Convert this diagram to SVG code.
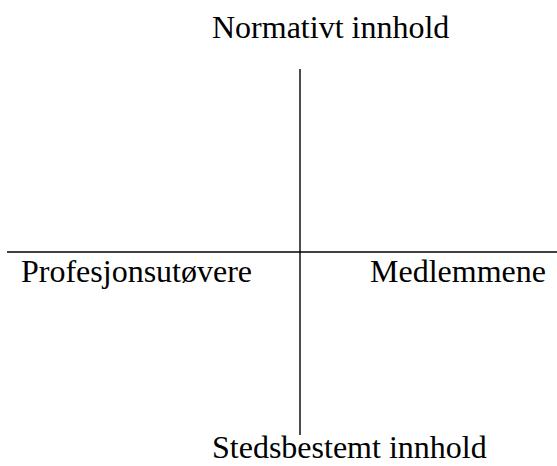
<svg xmlns="http://www.w3.org/2000/svg" width="557" height="466" viewBox="0 0 557 466">
<style>
.t{font-family:"Liberation Serif","Times New Roman",serif;font-size:32px;fill:#000}
.ln{stroke:#000;stroke-width:1.4;fill:none}
</style>
<rect width="557" height="466" fill="#fff"/>
<g id="connectors">
<line class="ln" x1="300" y1="69" x2="300" y2="435"/>
<line class="ln" x1="7" y1="252" x2="557" y2="252"/>
</g>
<g id="top"><text class="t" x="212" y="38">Normativt innhold</text></g>
<g id="left"><text class="t" x="21" y="282">Profesjonsutøvere</text></g>
<g id="right"><text class="t" x="370" y="282">Medlemmene</text></g>
<g id="bottom"><text class="t" x="212" y="458">Stedsbestemt innhold</text></g>
</svg>
